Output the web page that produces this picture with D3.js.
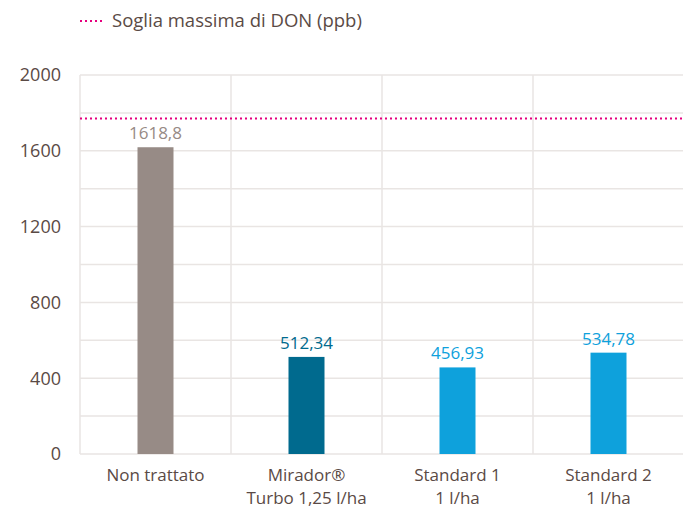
<!DOCTYPE html>
<html lang="it">
<head>
<meta charset="utf-8">
<title>DON</title>
<script src="https://d3js.org/d3.v7.min.js"></script>
<style>
  body { margin: 0; background: #fff; }
  text { font-family: "Open Sans", "Lato", sans-serif; }
</style>
</head>
<body>
<script>
// dati
var categorie = [["Non trattato"], ["Mirador®", "Turbo 1,25 l/ha"], ["Standard 1", "1 l/ha"], ["Standard 2", "1 l/ha"]];
var valori = [1618.8, 512.34, 456.93, 534.78];
var etichette = ["1618,8", "512,34", "456,93", "534,78"];
var colori = ["#978b86", "#006a8e", "#0ea1dc", "#0ea1dc"];
var coloriTesto = ["#978b86", "#006a8e", "#0ea1dc", "#0ea1dc"];
var ticks = [0, 400, 800, 1200, 1600, 2000];
var soglia = 1770;
var legenda = "Soglia massima di DON (ppb)";

var w = 683, h = 509;
var m = { top: 75, left: 80, bottom: 55 };
var plotW = 604, plotH = 379;

var svg = d3.select("body").append("svg")
    .attr("width", w)
    .attr("height", h);

var x = d3.scaleBand()
    .domain(d3.range(valori.length))
    .range([m.left, m.left + plotW]);

var y = d3.scaleLinear()
    .domain([0, 2000])
    .range([m.top + plotH, m.top]);

// griglia orizzontale ogni 200
svg.append("g").selectAll("line")
    .data(d3.range(0, 2001, 200))
    .enter().append("line")
    .attr("x1", m.left).attr("x2", m.left + plotW)
    .attr("y1", function(d) { return y(d); })
    .attr("y2", function(d) { return y(d); })
    .attr("stroke", "#e9e5e3")
    .attr("stroke-width", 1.5);

// griglia verticale
svg.append("g").selectAll("line")
    .data(d3.range(valori.length + 1))
    .enter().append("line")
    .attr("x1", function(d) { return m.left + d * x.step(); })
    .attr("x2", function(d) { return m.left + d * x.step(); })
    .attr("y1", y(2000)).attr("y2", y(0))
    .attr("stroke", "#e9e5e3")
    .attr("stroke-width", 1.5);

// etichette asse y
svg.append("g").selectAll("text")
    .data(ticks)
    .enter().append("text")
    .attr("x", 61)
    .attr("y", function(d) { return y(d); })
    .attr("dy", "0.35em")
    .attr("text-anchor", "end")
    .attr("fill", "#5a4a45")
    .attr("font-size", 18)
    .text(function(d) { return d; });

// barre
var bw = 36;
svg.append("g").selectAll("rect")
    .data(valori)
    .enter().append("rect")
    .attr("x", function(d, i) { return x(i) + x.bandwidth() / 2 - bw / 2; })
    .attr("y", function(d) { return y(d); })
    .attr("width", bw)
    .attr("height", function(d) { return y(0) - y(d); })
    .attr("fill", function(d, i) { return colori[i]; });

// valori sopra le barre
svg.append("g").selectAll("text")
    .data(valori)
    .enter().append("text")
    .attr("x", function(d, i) { return x(i) + x.bandwidth() / 2; })
    .attr("y", function(d) { return y(d) - 8; })
    .attr("text-anchor", "middle")
    .attr("fill", function(d, i) { return coloriTesto[i]; })
    .attr("font-size", 17)
    .text(function(d, i) { return etichette[i]; });

// etichette categorie (una riga per elemento di testo)
categorie.forEach(function(righe, i) {
    svg.append("g").selectAll("text")
        .data(righe)
        .enter().append("text")
        .attr("x", x(i) + x.bandwidth() / 2)
        .attr("y", function(d, j) { return 481 + j * 23; })
        .attr("text-anchor", "middle")
        .attr("fill", "#5a4a45")
        .attr("font-size", 17)
        .text(function(d) { return d; });
});

// soglia
svg.append("line")
    .attr("x1", m.left).attr("x2", w)
    .attr("y1", y(soglia)).attr("y2", y(soglia))
    .attr("stroke", "#e6007e")
    .attr("stroke-width", 2)
    .attr("stroke-dasharray", "2,3");

// legenda
svg.append("line")
    .attr("x1", 80).attr("x2", 104)
    .attr("y1", 21).attr("y2", 21)
    .attr("stroke", "#e6007e")
    .attr("stroke-width", 2)
    .attr("stroke-dasharray", "2,3");
svg.append("text")
    .attr("x", 112).attr("y", 21)
    .attr("dy", "0.35em")
    .attr("fill", "#5a4a45")
    .attr("font-size", 18.5)
    .text(legenda);
</script>
</body>
</html>
